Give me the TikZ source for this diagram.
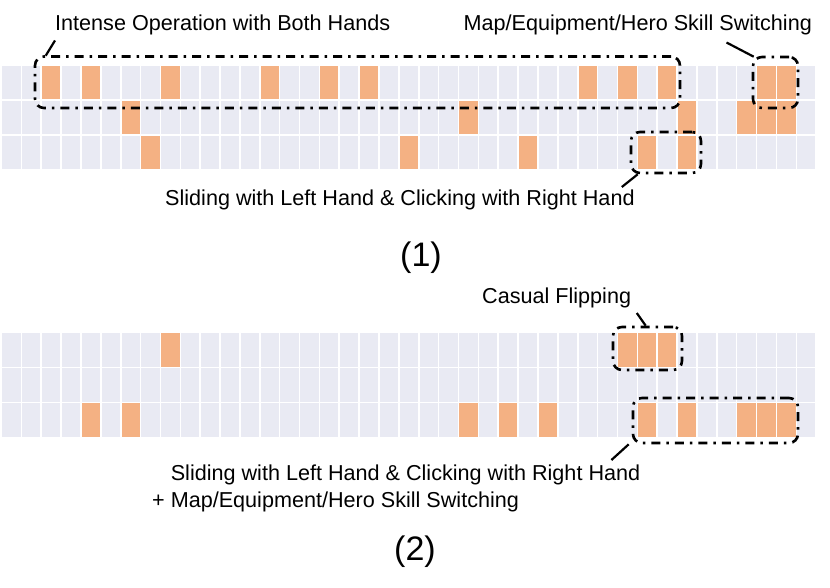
\documentclass[tikz,border=0pt]{standalone}
\usepackage{fontspec}
\setmainfont{Liberation Sans}
\usetikzlibrary{calc,fit,positioning}
\definecolor{gridbg}{HTML}{E9EAF3}
\definecolor{hitorange}{HTML}{F4B183}
\tikzset{
    cellbg/.style={fill=gridbg,draw=white,line width=1.6},
    hit/.style={fill=hitorange,draw=white,line width=1.6},
    callbox/.style={draw,line width=2.6,rounded corners=9,dash pattern=on 9pt off 6pt on 2.5pt off 6pt,inner sep=0},
    leader/.style={line width=2.2},
    lbl/.style={font=\fontsize{21.6}{27}\selectfont,inner sep=0},
    tag/.style={font=\fontsize{34}{40}\selectfont,inner sep=0}
}
\newcommand{\cw}{19.87}
\begin{document}
\begin{tikzpicture}[x=1pt,y=-1pt]
        \useasboundingbox (0,0) rectangle (830,588);
        % grids: 41 columns x 3 rows
        \foreach \top in {65,332.5}
            \foreach \k in {0,...,40}
                \foreach \r in {0,1,2}
                    {
                        \fill[cellbg] (1.5+\k*\cw,\top+\r*35) rectangle ++(\cw,35);
                    }
        % (1)
        \foreach \k in {2,4,8,13,16,18,29,31,33,38,39}
            \fill[hit] (1.5+\k*\cw,65) rectangle ++(\cw,35);
        \foreach \k in {6,23,34,37,38,39}
            \fill[hit] (1.5+\k*\cw,100) rectangle ++(\cw,35);
        \foreach \k in {7,20,26,32,34}
            \fill[hit] (1.5+\k*\cw,135) rectangle ++(\cw,35);
        % (2)
        \foreach \k in {8,31,32,33}
            \fill[hit] (1.5+\k*\cw,332.5) rectangle ++(\cw,35);
        \foreach \k in {4,6,23,25,27,32,34,37,38,39}
            \fill[hit] (1.5+\k*\cw,402.5) rectangle ++(\cw,35);

        \node[callbox,fit={(35,56.5) (680,108)}] (intense) {};
        \node[callbox,fit={(753,57) (798,108)}] (mapsw) {};
        \node[callbox,fit={(631,132) (701,173)}] (slideA) {};
        \node[callbox,fit={(613,327) (682,370)}] (casual) {};
        \node[callbox,fit={(633,398) (798,443)}] (slideB) {};

        \node[lbl,anchor=base west] (lblint) at (55,30.5) {Intense Operation with Both Hands};
        \node[lbl,anchor=base west] (lblmap) at (463.5,30.5) {Map/Equipment/Hero Skill Switching};
        \node[lbl,anchor=base west] (lblslideA) at (165,205.5) {Sliding with Left Hand \& Clicking with Right Hand};
        \node[lbl,anchor=base west] (lblcasual) at (482,303.5) {Casual Flipping};
        \node[lbl,anchor=north west,align=left] (lblslideB) at (152,465) {\hphantom{+}\ Sliding with Left Hand \& Clicking with Right Hand\\+ Map/Equipment/Hero Skill Switching};
        \node[tag] (tagA) at (421,258) {(1)};
        \node[tag] (tagB) at (415,552) {(2)};

        \draw[leader] ($(lblint.base west)+(0,10)$)--($(intense.north west)+(12,0.5)$);
        \draw[leader] ($(lblmap.base west)+(263,12)$)--($(mapsw.north west)+(2,1)$);
        \draw[leader] ($(lblslideA.base east)+(-13,-18.5)$)--($(slideA.south west)+(8,0)$);
        \draw[leader] ($(lblcasual.base east)+(5.5,9.5)$)--($(casual.north west)+(34,0)$);
        \draw[leader] ($(lblslideB.north east)+(-29,-5)$)--($(slideB.south west)+(-3,0)$);
    \end{tikzpicture}
\end{document}
